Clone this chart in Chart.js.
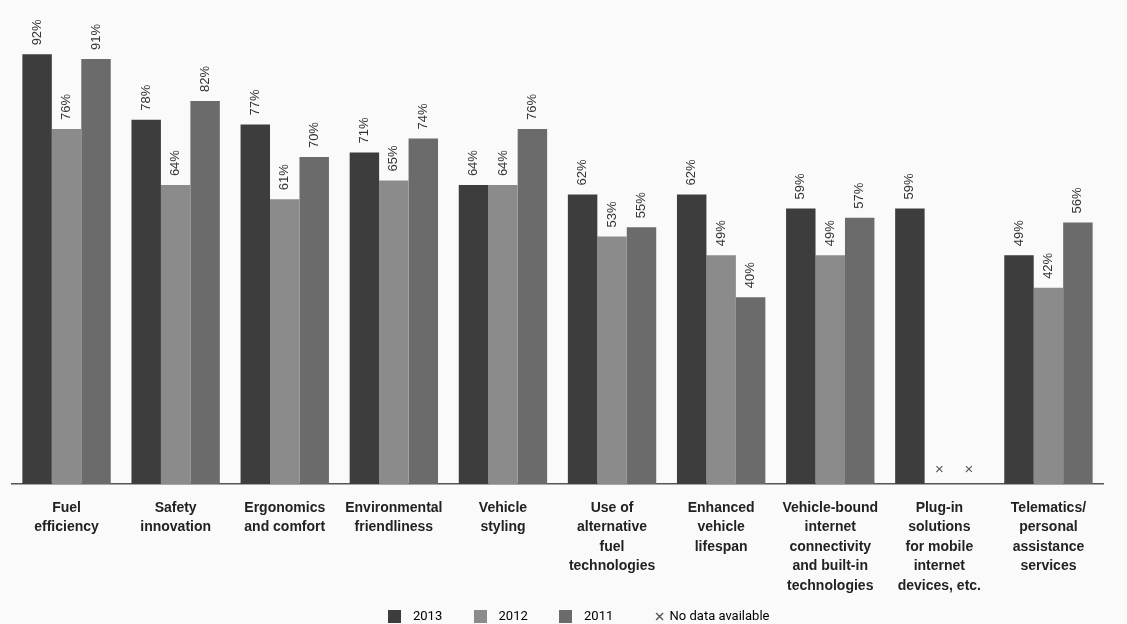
<!DOCTYPE html>
<html>
<head>
<meta charset="utf-8">
<script src="https://cdn.jsdelivr.net/npm/chart.js@4"></script>
<style>
  html, body { margin: 0; padding: 0; background: #fafafa; }
  #wrap { width: 1127px; height: 624px; }
</style>
</head>
<body>
<div id="wrap"><canvas id="featureChart"></canvas></div>
<script>
const categories = [
    ['Fuel', 'efficiency'],
    ['Safety', 'innovation'],
    ['Ergonomics', 'and comfort'],
    ['Environmental', 'friendliness'],
    ['Vehicle', 'styling'],
    ['Use of', 'alternative', 'fuel', 'technologies'],
    ['Enhanced', 'vehicle', 'lifespan'],
    ['Vehicle-bound', 'internet', 'connectivity', 'and built-in', 'technologies'],
    ['Plug-in', 'solutions', 'for mobile', 'internet', 'devices, etc.'],
    ['Telematics/', 'personal', 'assistance', 'services']
];
const values2013 = [92, 78, 77, 71, 64, 62, 62, 59, 59, 49];
const values2012 = [76, 64, 61, 65, 64, 53, 49, 49, null, 42];
const values2011 = [91, 82, 70, 74, 76, 55, 40, 57, null, 56];

// small legend markers drawn as images
function makeSwatch(color) {
    const c = document.createElement('canvas');
    c.width = 13; c.height = 13;
    const g = c.getContext('2d');
    g.fillStyle = color;
    g.fillRect(0, 0, 13, 13);
    return c;
}
function makeCross() {
    // wide canvas so the cross sits close to its text
    const c = document.createElement('canvas');
    c.width = 28; c.height = 9;
    const g = c.getContext('2d');
    g.strokeStyle = '#444';
    g.lineWidth = 1.2;
    g.beginPath();
    g.moveTo(19, 1); g.lineTo(26, 8);
    g.moveTo(26, 1); g.lineTo(19, 8);
    g.stroke();
    return c;
}

// labels above bars, rotated, plus "x" for missing values
const barLabels = {
    id: 'barLabels',
    afterDatasetsDraw(chart) {
        const ctx = chart.ctx;
        const base = chart.scales.y.getPixelForValue(0);
        ctx.save();
        chart.data.datasets.forEach((ds, i) => {
            const meta = chart.getDatasetMeta(i);
            meta.data.forEach((bar, j) => {
                const v = ds.data[j];
                if (v === null) {
                    ctx.fillStyle = '#555';
                    ctx.font = '15px "Liberation Sans", sans-serif';
                    ctx.textAlign = 'center';
                    ctx.textBaseline = 'middle';
                    ctx.fillText('\u00d7', bar.x, base - 14);
                    return;
                }
                ctx.save();
                ctx.translate(bar.x, bar.y - 9);
                ctx.rotate(-Math.PI / 2);
                ctx.fillStyle = '#333';
                ctx.font = '13px "Liberation Sans", sans-serif';
                ctx.textAlign = 'left';
                ctx.textBaseline = 'middle';
                ctx.fillText(v + '%', 0, 0);
                ctx.restore();
            });
        });
        ctx.restore();
    }
};

new Chart(document.getElementById('featureChart').getContext('2d'), {
    type: 'bar',
    data: {
        labels: categories,
        datasets: [
            { label: '2013', data: values2013, backgroundColor: '#3d3d3d' },
            { label: '2012', data: values2012, backgroundColor: '#8b8b8b' },
            { label: '2011', data: values2011, backgroundColor: '#6b6b6b' }
        ]
    },
    options: {
        responsive: true,
        maintainAspectRatio: false,
        animation: false,
        datasets: {
            bar: { categoryPercentage: 0.81, barPercentage: 1.0, borderWidth: 0 }
        },
        layout: { padding: { left: 12, right: 24, top: 17, bottom: -9 } },
        plugins: {
            tooltip: { enabled: false },
            legend: {
                position: 'bottom',
                labels: {
                    usePointStyle: true,
                    pointStyleWidth: 24,
                    boxHeight: 13,
                    padding: 0,
                    color: '#333',
                    font: { family: 'Roboto', size: 13 },
                    generateLabels(chart) {
                        // empty spacer first, nudges the centred legend to the right
                        const spacer = document.createElement('canvas');
                        spacer.width = 1; spacer.height = 1;
                        const items = [{ text: '  ', fillStyle: 'transparent', lineWidth: 0, pointStyle: spacer }];
                        chart.data.datasets.forEach((ds, i) => items.push({
                            text: ds.label + '        ',
                            fillStyle: ds.backgroundColor,
                            strokeStyle: ds.backgroundColor,
                            lineWidth: 0,
                            pointStyle: makeSwatch(ds.backgroundColor),
                            datasetIndex: i
                        }));
                        items.push({
                            text: 'No data available',
                            fillStyle: '#444',
                            strokeStyle: '#444',
                            lineWidth: 0,
                            pointStyle: makeCross()
                        });
                        return items;
                    }
                }
            }
        },
        scales: {
            x: {
                grid: { display: false, drawTicks: false },
                border: { color: '#555', width: 1.5 },
                ticks: {
                    autoSkip: false,
                    maxRotation: 0,
                    padding: 14,
                    color: '#222',
                    font: { family: '"Liberation Sans"', size: 14, weight: 'bold', lineHeight: 1.4 }
                }
            },
            y: {
                display: false,
                min: 0,
                max: 100
            }
        }
    },
    plugins: [barLabels]
});
</script>
</body>
</html>
